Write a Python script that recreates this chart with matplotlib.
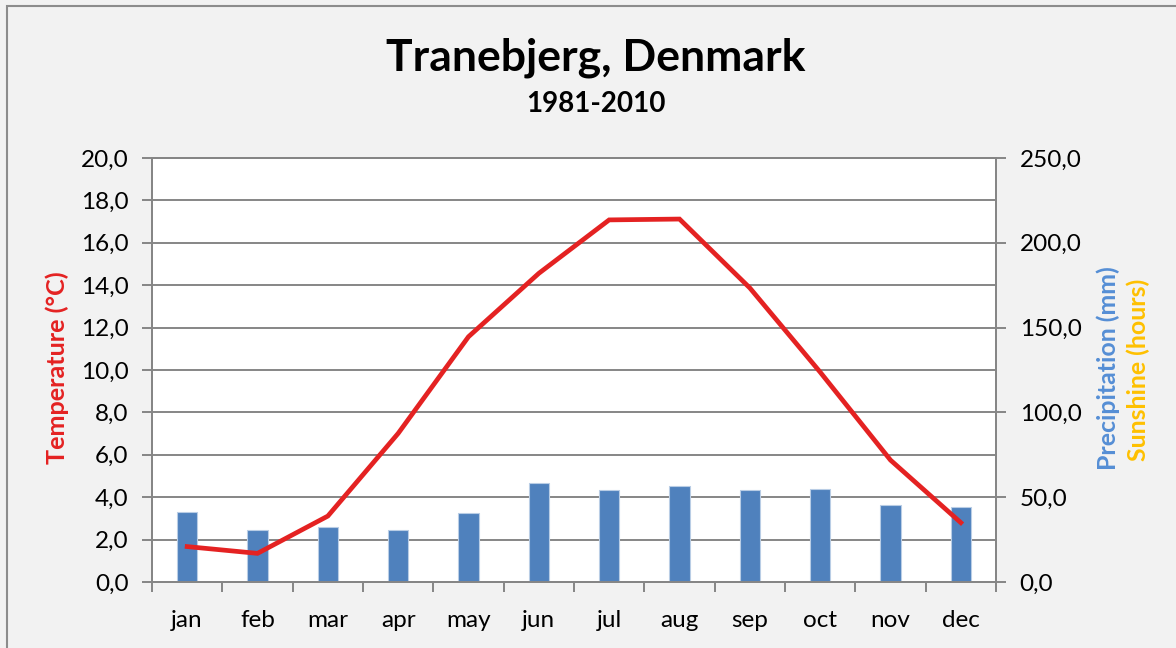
import numpy as np
import matplotlib.pyplot as plt
from matplotlib.patches import Rectangle
from matplotlib.ticker import FuncFormatter, FixedLocator

# climate normals 1981-2010
months = ['jan', 'feb', 'mar', 'apr', 'may', 'jun', 'jul', 'aug', 'sep', 'oct', 'nov', 'dec']
temperature = [1.67, 1.35, 3.11, 7.01, 11.57, 14.56, 17.08, 17.12, 13.87, 9.9, 5.75, 2.80]
precipitation = [41.4, 30.5, 32.2, 30.8, 40.5, 58.2, 54.5, 56.4, 54.2, 55.0, 45.6, 44.2]

plt.rcParams['font.family'] = ['Lato', 'DejaVu Sans']

W, H = 1176, 648
fig = plt.figure(figsize=(W / 100, H / 100), dpi=100, facecolor='#f2f2f2')

# outer frame of the chart area
fig.patches.append(Rectangle((7 / W, -0.1), 1.2, 1.1 - 6 / H, transform=fig.transFigure,
                             fill=False, edgecolor='#8c8c8c', linewidth=1.5))

ax = fig.add_axes([152 / W, 1 - 582 / H, (996 - 152) / W, (582 - 158) / H])
ax2 = ax.twinx()
ax.set_zorder(ax2.get_zorder() + 1)
ax.patch.set_visible(False)
ax2.patch.set_facecolor('white')
ax2.patch.set_visible(True)

x = np.arange(len(months))
grid_col = '#868686'

# precipitation bars on the right axis
ax2.bar(x, precipitation, width=0.29, color='#4f81bd', edgecolor='#b9cde5', linewidth=0.8, zorder=3)
ax2.set_ylim(0, 250)
ax2.set_yticks(np.arange(0, 251, 50))

# temperature line on the left axis
ax.plot(x, temperature, color='#e42222', linewidth=3.4, solid_joinstyle='miter', zorder=4)
ax.set_ylim(0, 20)
ax.set_yticks(np.arange(0, 21, 2))
ax.set_xlim(-0.5, len(months) - 0.5)

# gridlines drawn on the back axis
for v in np.arange(0, 251, 25):
    ax2.axhline(v, color=grid_col, linewidth=1.4, zorder=1)

comma = FuncFormatter(lambda v, p: f'{v:.1f}'.replace('.', ','))
ax.yaxis.set_major_formatter(comma)
ax2.yaxis.set_major_formatter(comma)

ax.set_xticks(x)
ax.set_xticklabels(months)
ax.xaxis.set_minor_locator(FixedLocator(np.arange(-0.5, len(months), 1)))
ax.tick_params(axis='x', which='major', length=0, pad=20, labelsize=17.5)
ax.tick_params(axis='x', which='minor', length=7, width=1.4, color=grid_col, direction='out')
ax.tick_params(axis='y', length=7, width=1.4, color=grid_col, labelsize=17.5, pad=10)
ax2.tick_params(axis='y', length=7, width=1.4, color=grid_col, labelsize=17.5, pad=10)

for a in (ax, ax2):
    for s in a.spines.values():
        s.set_color(grid_col)
        s.set_linewidth(1.4)

fig.text(596 / W, 1 - 58 / H, 'Tranebjerg, Denmark', ha='center', va='center',
         fontsize=32, fontweight='bold')
fig.text(596 / W, 1 - 104 / H, '1981-2010', ha='center', va='center',
         fontsize=20, fontweight='bold')

fig.text(57 / W, 1 - 368 / H, 'Temperature (°C)', rotation=90, ha='center', va='center',
         fontsize=18.2, fontweight='bold', color='#e42222')
fig.text(1108 / W, 1 - 368 / H, 'Precipitation (mm)', rotation=90, ha='center', va='center',
         fontsize=17.9, fontweight='bold', color='#558ed5')
fig.text(1138 / W, 1 - 370 / H, 'Sunshine (hours)', rotation=90, ha='center', va='center',
         fontsize=17.9, fontweight='bold', color='#ffc000')

fig.savefig('out.png', dpi=100, facecolor=fig.get_facecolor())
